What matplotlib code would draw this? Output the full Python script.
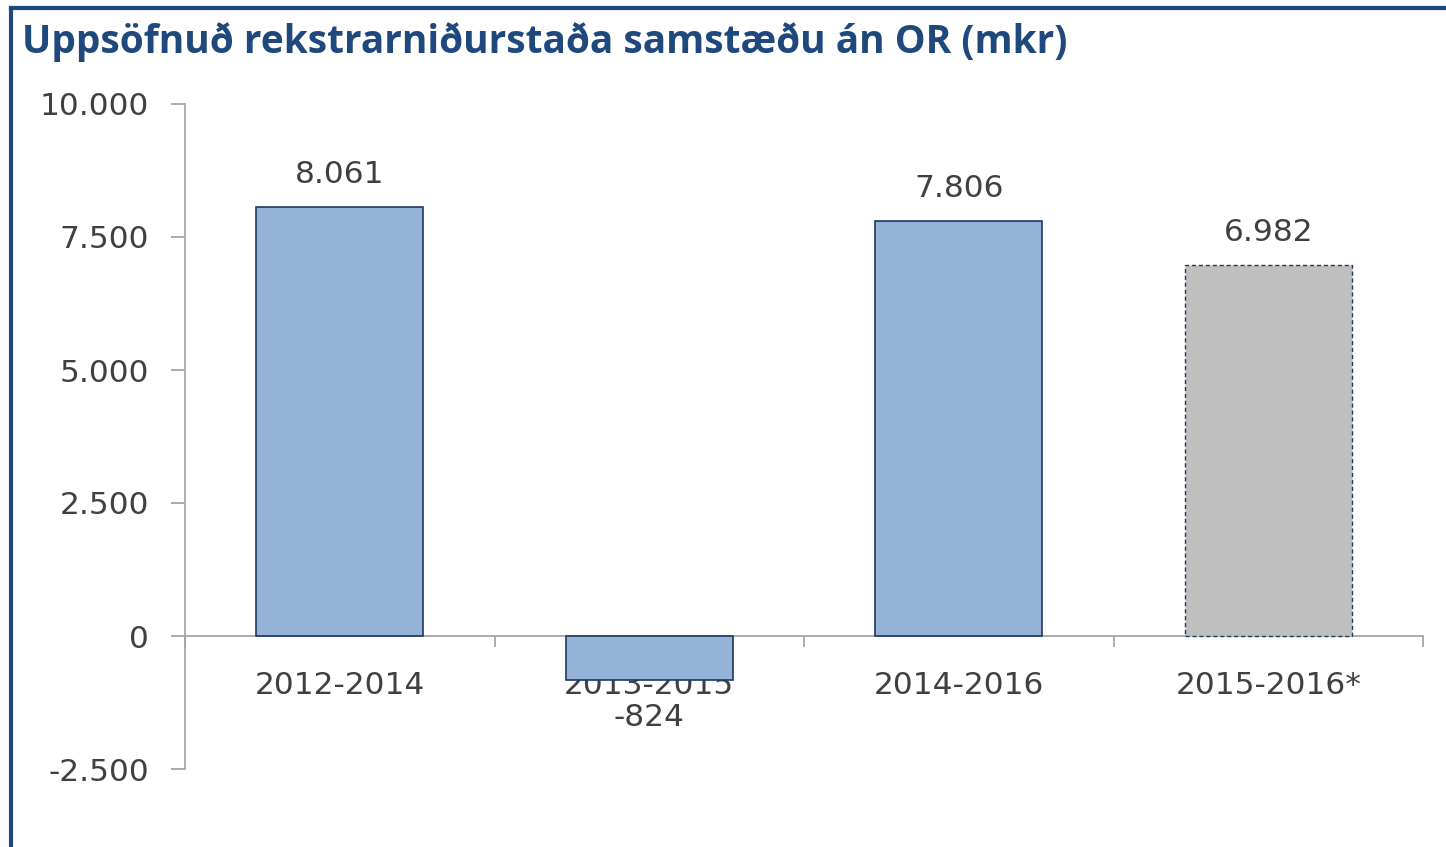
import matplotlib
matplotlib.use("Agg")
import matplotlib.pyplot as plt
from matplotlib.lines import Line2D

categories = ["2012-2014", "2013-2015", "2014-2016", "2015-2016*"]
values = [8061, -824, 7806, 6982]
value_labels = ["8.061", "-824", "7.806", "6.982"]
yticks = [-2500, 0, 2500, 5000, 7500, 10000]
ytick_labels = ["-2.500", "0", "2.500", "5.000", "7.500", "10.000"]
title = "Uppsöfnuð rekstrarniðurstaða samstæðu án OR (mkr)"

plt.rcParams["font.family"] = ["DejaVu Sans"]

W, H = 1446, 847
fig = plt.figure(figsize=(W / 100, H / 100), dpi=100)
fig.patch.set_facecolor("white")

ax = fig.add_axes([185 / W, 1 - 769 / H, (1423 - 185) / W, (769 - 104) / H])

blue = "#95B3D7"
navy = "#1F3864"
grey = "#BFBFBF"
text_col = "#404040"
axis_col = "#A6A6A6"
fs = 22.5

xs = list(range(len(categories)))
bars = ax.bar(xs, values, width=0.54, color=[blue, blue, blue, grey],
              edgecolor=navy, linewidth=1.2, zorder=3)
bars[3].set_linestyle((0, (3, 2)))
bars[3].set_linewidth(1.0)

ax.set_xlim(-0.5, len(categories) - 0.5)
ax.set_ylim(-2500, 10000)

for s in ["top", "right"]:
    ax.spines[s].set_visible(False)
ax.spines["left"].set_color(axis_col)
ax.spines["left"].set_linewidth(1.3)
ax.spines["bottom"].set_position(("data", 0))
ax.spines["bottom"].set_color(axis_col)
ax.spines["bottom"].set_linewidth(1.3)

ax.set_yticks(yticks)
ax.set_yticklabels(ytick_labels)
ax.tick_params(axis="y", length=10, width=1.3, color=axis_col, pad=16,
               labelsize=fs, labelcolor=text_col)

ax.set_xticks(xs)
ax.set_xticklabels(categories)
ax.tick_params(axis="x", which="major", length=0, pad=25,
               labelsize=fs, labelcolor=text_col)
ax.set_xticks([i - 0.5 for i in range(len(categories) + 1)], minor=True)
ax.tick_params(axis="x", which="minor", length=8, width=1.3, color=axis_col)

for x, v, lab in zip(xs, values, value_labels):
    if v >= 0:
        ax.annotate(lab, (x, v), xytext=(0, 13), textcoords="offset points",
                    ha="center", va="bottom", fontsize=fs, color=text_col)
    else:
        ax.annotate(lab, (x, v), xytext=(0, -17), textcoords="offset points",
                    ha="center", va="top", fontsize=fs, color=text_col)

fig.text(22 / W, 1 - 42 / H, title, fontsize=28, fontweight="bold",
         color="#1F497D", family="Open Sans", ha="left", va="center")

# outer frame (top and left edges visible)
fig.add_artist(Line2D([11 / W, 1], [1 - 8 / H, 1 - 8 / H], transform=fig.transFigure,
                      color="#1F497D", linewidth=3))
fig.add_artist(Line2D([11 / W, 11 / W], [0, 1 - 8 / H], transform=fig.transFigure,
                      color="#1F497D", linewidth=3))

fig.savefig("out.png", dpi=100, facecolor="white")
